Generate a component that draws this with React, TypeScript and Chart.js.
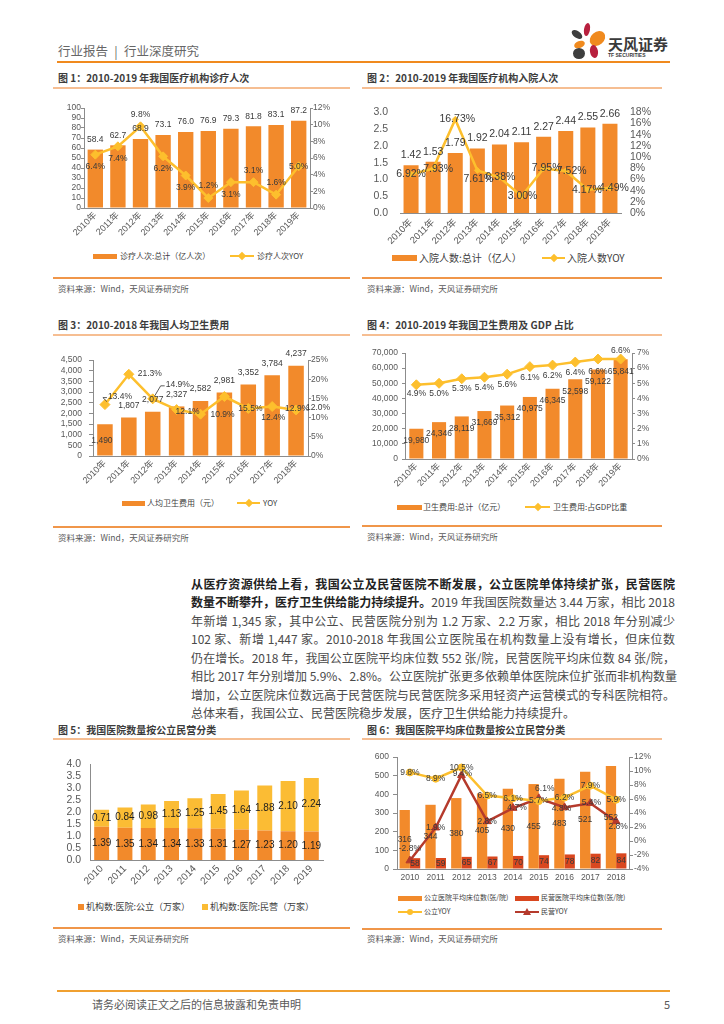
import React, { useEffect, useRef } from 'react';
import { Chart, registerables } from 'chart.js';

Chart.register(...registerables);

const NUM = "'Liberation Sans', 'Noto Sans CJK SC', sans-serif";
const CJK = "'Noto Sans CJK SC', 'Liberation Sans', sans-serif";

const ORANGE = '#F28A2B';
const YELLOW = '#FDBF2D';
const GOLD5 = '#FBBC34';
const RED_BAR = '#D9471F';
const RED_LINE = '#B53A2C';
const AXIS = '#8C8C8C';
const TICK = '#595959';
const LABEL = '#3A3A3A';

// ---------------- data ----------------
const yearsCN10 = ['2010年', '2011年', '2012年', '2013年', '2014年', '2015年', '2016年', '2017年', '2018年', '2019年'];
const yearsCN9 = ['2010年', '2011年', '2012年', '2013年', '2014年', '2015年', '2016年', '2017年', '2018年'];
const years10 = ['2010', '2011', '2012', '2013', '2014', '2015', '2016', '2017', '2018', '2019'];
const years9 = ['2010', '2011', '2012', '2013', '2014', '2015', '2016', '2017', '2018'];

const visits = [58.4, 62.7, 68.9, 73.1, 76.0, 76.9, 79.3, 81.8, 83.1, 87.2];
const visitsYoy = [6.4, 7.4, 9.8, 6.2, 3.9, 1.2, 3.1, 3.1, 1.6, 5.0];

const admissions = [1.42, 1.53, 1.79, 1.92, 2.04, 2.11, 2.27, 2.44, 2.55, 2.66];
const admissionsYoy = [6.92, 7.93, 16.73, 7.61, 6.38, 3.0, 7.95, 7.52, 4.17, 4.49];

const perCapita = [1490, 1807, 2077, 2327, 2582, 2981, 3352, 3784, 4237];
const perCapitaYoy = [13.4, 21.3, 14.9, 12.1, 10.9, 15.5, 12.4, 12.9, 12.0];

const healthSpend = [19980, 24346, 28119, 31669, 35312, 40975, 46345, 52598, 59122, 65841];
const gdpShare = [4.9, 5.0, 5.3, 5.4, 5.6, 6.1, 6.2, 6.4, 6.6, 6.6];

const publicHosp = [1.39, 1.35, 1.34, 1.34, 1.33, 1.31, 1.27, 1.23, 1.2, 1.19];
const privateHosp = [0.71, 0.84, 0.98, 1.13, 1.25, 1.45, 1.64, 1.88, 2.1, 2.24];

const publicBeds = [316, 344, 380, 405, 430, 455, 483, 521, 552];
const privateBeds = [58, 59, 65, 67, 70, 74, 78, 82, 84];
const publicBedsYoy = [9.8, 8.9, 10.5, 6.5, 6.1, 5.7, 6.2, 7.9, 5.9];
const privateBedsYoy = [-2.8, 1.9, 9.4, 2.8, 4.7, 6.1, 4.8, 5.4, 2.8];

// ---------------- helpers ----------------
const comma = (v: number) => Math.round(v).toLocaleString('en-US');
const pct0 = (v: number) => `${Math.round(v)}%`;
const fix1 = (v: number) => v.toFixed(1);
const fix2 = (v: number) => v.toFixed(2);

type LabelSet = {
  ds: number;
  fmt: (v: number) => string;
  pos: string | string[];
  off?: number | number[];
  dx?: number[];
  dy?: number[];
  leader?: boolean[];
  size: number;
  color?: string;
};

function labelPlugin(sets: LabelSet[]) {
  return {
    id: 'valueLabels',
    afterDatasetsDraw(chart: any) {
      const ctx = chart.ctx;
      ctx.save();
      for (const s of sets) {
        const meta = chart.getDatasetMeta(s.ds);
        const data = chart.data.datasets[s.ds].data;
        meta.data.forEach((el: any, i: number) => {
          const p = el.getProps(['x', 'y', 'base'], true);
          const pos = Array.isArray(s.pos) ? s.pos[i] : s.pos;
          const off = Array.isArray(s.off) ? s.off[i] : s.off ?? 0;
          let x = p.x;
          let y = p.y;
          if (pos === 'above') y -= off;
          else if (pos === 'below') y += off;
          else if (pos === 'middle') y = (p.y + p.base) / 2;
          x += s.dx ? s.dx[i] : 0;
          y += s.dy ? s.dy[i] : 0;
          const text = s.fmt(data[i]);
          ctx.font = `${s.size}px ${NUM}`;
          ctx.fillStyle = s.color || LABEL;
          ctx.textAlign = 'center';
          ctx.textBaseline = 'middle';
          ctx.fillText(text, x, y);
          if (s.leader && s.leader[i]) {
            const w = ctx.measureText(text).width;
            ctx.strokeStyle = '#333';
            ctx.lineWidth = 0.8;
            ctx.beginPath();
            ctx.moveTo(p.x + 2, p.y - 3);
            ctx.lineTo(x - w / 2 - 5, y + 1);
            ctx.lineTo(x - w / 2 - 1, y + 1);
            ctx.stroke();
          }
        });
      }
      ctx.restore();
    },
  };
}

function yScale(o: any) {
  return {
    type: 'linear',
    position: o.pos,
    min: o.min,
    max: o.max,
    stacked: !!o.stacked,
    ticks: {
      stepSize: o.step,
      autoSkip: false,
      color: TICK,
      font: { size: o.size, family: NUM },
      padding: o.pad,
      callback: (v: any) => o.fmt(Number(v)),
    },
    grid: { display: o.tick > 0, drawOnChartArea: false, drawTicks: o.tick > 0, tickLength: o.tick, color: AXIS },
    border: { display: o.border, color: AXIS, width: 1 },
    afterFit: (s: any) => {
      s.width = o.width;
    },
  };
}

function xScale(o: any) {
  return {
    type: 'category',
    stacked: !!o.stacked,
    offset: true,
    ticks: {
      autoSkip: false,
      maxRotation: o.rot,
      minRotation: o.rot,
      color: TICK,
      font: { size: o.size, family: NUM },
      padding: o.pad ?? 2,
    },
    grid: { display: false, drawTicks: false },
    border: { display: true, color: AXIS, width: 1 },
    afterFit: (s: any) => {
      s.height = o.height;
    },
  };
}

function baseOptions(pad: any, scales: any) {
  return {
    responsive: false,
    animation: false,
    devicePixelRatio: 1,
    events: [],
    layout: { padding: pad },
    plugins: { legend: { display: false }, tooltip: { enabled: false } },
    scales,
  };
}

function lineDs(data: number[], color: string, style: string, radius: number) {
  return {
    type: 'line',
    data,
    yAxisID: 'y1',
    borderColor: color,
    backgroundColor: color,
    pointBackgroundColor: color,
    pointBorderColor: color,
    pointBorderWidth: 1,
    borderWidth: 2.5,
    pointStyle: style,
    pointRadius: radius,
    tension: 0,
    order: 0,
  };
}

function barDs(data: number[], color: string, bp: number, cp = 1, extra: any = {}) {
  return {
    type: 'bar',
    data,
    yAxisID: 'y',
    backgroundColor: color,
    barPercentage: bp,
    categoryPercentage: cp,
    order: 1,
    ...extra,
  };
}

// ---------------- chart configs ----------------
const chart1 = () => ({
  type: 'bar',
  data: {
    labels: yearsCN10,
    datasets: [lineDs(visitsYoy, YELLOW, 'rectRot', 4.5), barDs(visits, ORANGE, 0.68)],
  },
  options: baseOptions({ top: 10, left: 0, right: 0, bottom: 0 }, {
    x: xScale({ rot: 45, size: 9, height: 40 }),
    y: yScale({ pos: 'left', min: 0, max: 100, step: 10, size: 8.5, pad: 0, tick: 3, border: true, width: 34, fmt: (v: number) => String(Math.round(v)) }),
    y1: yScale({ pos: 'right', min: 0, max: 12, step: 2, size: 8.5, pad: 0, tick: 3, border: true, width: 35, fmt: pct0 }),
  }),
  plugins: [
    labelPlugin([
      { ds: 1, fmt: fix1, pos: 'above', off: 10, size: 8.5 },
      {
        ds: 0,
        fmt: (v: number) => `${v.toFixed(1)}%`,
        pos: ['below', 'below', 'above', 'below', 'below', 'above', 'below', 'above', 'above', 'center'],
        off: 12,
        size: 8.5,
      },
    ]),
  ],
});

const chart2 = () => ({
  type: 'bar',
  data: {
    labels: yearsCN10,
    datasets: [lineDs(admissionsYoy, YELLOW, 'rectRot', 3), barDs(admissions, ORANGE, 0.68)],
  },
  options: baseOptions({ top: 10, left: 0, right: 0, bottom: 0 }, {
    x: xScale({ rot: 45, size: 9.5, height: 36, pad: 4 }),
    y: yScale({ pos: 'left', min: 0, max: 3, step: 0.5, size: 10.5, pad: 12, tick: 0, border: false, width: 38, fmt: fix1 }),
    y1: yScale({ pos: 'right', min: 0, max: 18, step: 2, size: 10.5, pad: 9, tick: 0, border: false, width: 41, fmt: pct0 }),
  }),
  plugins: [
    labelPlugin([
      { ds: 1, fmt: fix2, pos: 'above', off: 10, size: 10.5 },
      {
        ds: 0,
        fmt: (v: number) => `${v.toFixed(2)}%`,
        pos: 'center',
        dx: [0, 5, 2, 1, 1, 1, 3, 6, -1, 4],
        dy: [0, 0, 0, 9, 0, 0, 0, 0, 0, 0],
        size: 10.5,
      },
    ]),
  ],
});

const chart3 = () => ({
  type: 'bar',
  data: {
    labels: yearsCN9,
    datasets: [lineDs(perCapitaYoy, YELLOW, 'rectRot', 5), barDs(perCapita, ORANGE, 0.65)],
  },
  options: baseOptions({ top: 10, left: 0, right: 0, bottom: 0 }, {
    x: xScale({ rot: 45, size: 9, height: 37 }),
    y: yScale({ pos: 'left', min: 0, max: 4500, step: 500, size: 8.5, pad: 7, tick: 4, border: true, width: 43, fmt: comma }),
    y1: yScale({ pos: 'right', min: 0, max: 25, step: 5, size: 8.5, pad: 0, tick: 3, border: true, width: 37, fmt: pct0 }),
  }),
  plugins: [
    labelPlugin([
      {
        ds: 1,
        fmt: comma,
        pos: ['below', 'above', 'above', 'above', 'above', 'above', 'above', 'above', 'above'],
        off: [16, 12, 12, 12, 12, 12, 12, 12, 12],
        dx: [-3, 0, 0, 0, 0, 0, 0, 0, 0],
        size: 8.5,
      },
      {
        ds: 0,
        fmt: (v: number) => `${v.toFixed(1)}%`,
        pos: 'center',
        dx: [15, 21, 25, 11, 22, 26, 25, 25, 22],
        dy: [-8, -1, -14, 2, 0, 12, 9, 2, -2],
        leader: [true, false, true, false, false, false, false, false, false],
        size: 8.5,
      },
    ]),
  ],
});

const chart4 = () => ({
  type: 'bar',
  data: {
    labels: yearsCN10,
    datasets: [lineDs(gdpShare, YELLOW, 'rectRot', 5), barDs(healthSpend, ORANGE, 0.62)],
  },
  options: baseOptions({ top: 10, left: 0, right: 0, bottom: 0 }, {
    x: xScale({ rot: 45, size: 9, height: 36 }),
    y: yScale({ pos: 'left', min: 0, max: 70000, step: 10000, size: 8.5, pad: 4, tick: 3, border: true, width: 43, fmt: comma }),
    y1: yScale({ pos: 'right', min: 0, max: 7, step: 1, size: 8.5, pad: 2, tick: 3, border: true, width: 30, fmt: pct0 }),
  }),
  plugins: [
    labelPlugin([
      { ds: 1, fmt: comma, pos: 'below', off: 12, size: 8.5 },
      {
        ds: 0,
        fmt: (v: number) => `${v.toFixed(1)}%`,
        pos: ['below', 'below', 'below', 'below', 'below', 'below', 'below', 'below', 'below', 'above'],
        off: [9, 10, 10, 10, 10, 11, 11, 11, 13, 8],
        size: 8.5,
      },
    ]),
  ],
});

const chart5 = () => ({
  type: 'bar',
  data: {
    labels: years10,
    datasets: [
      barDs(publicHosp, ORANGE, 0.64, 1, { stack: 's' }),
      barDs(privateHosp, GOLD5, 0.64, 1, { stack: 's' }),
    ],
  },
  options: baseOptions({ top: 10, left: 0, right: 22, bottom: 0 }, {
    x: xScale({ rot: 45, size: 10, height: 39, pad: 3, stacked: true }),
    y: yScale({ pos: 'left', min: 0, max: 4, step: 0.5, size: 10.5, pad: 9, tick: 0, border: true, width: 40, fmt: fix1, stacked: true }),
  }),
  plugins: [
    labelPlugin([
      { ds: 0, fmt: fix2, pos: 'middle', size: 10, color: '#1E1E1E' },
      { ds: 1, fmt: fix2, pos: 'middle', size: 10, color: '#1E1E1E' },
    ]),
  ],
});

const chart6 = () => ({
  type: 'bar',
  data: {
    labels: years9,
    datasets: [
      lineDs(publicBedsYoy, YELLOW, 'circle', 3.5),
      { ...lineDs(privateBedsYoy, RED_LINE, 'triangle', 4.5) },
      barDs(publicBeds, ORANGE, 1, 0.8),
      barDs(privateBeds, RED_BAR, 1, 0.8),
    ],
  },
  options: baseOptions({ top: 10, left: 0, right: 0, bottom: 0 }, {
    x: xScale({ rot: 0, size: 8.5, height: 18, pad: 4 }),
    y: yScale({ pos: 'left', min: 0, max: 600, step: 100, size: 8.5, pad: 4, tick: 4, border: true, width: 35, fmt: (v: number) => String(Math.round(v)) }),
    y1: yScale({ pos: 'right', min: -4, max: 12, step: 2, size: 8.5, pad: 1, tick: 4, border: true, width: 33, fmt: pct0 }),
  }),
  plugins: [
    labelPlugin([
      { ds: 2, fmt: (v: number) => String(v), pos: 'middle', size: 8.5 },
      { ds: 3, fmt: (v: number) => String(v), pos: 'middle', size: 8.5 },
      { ds: 0, fmt: (v: number) => `${v.toFixed(1)}%`, pos: 'center', size: 8.5 },
      {
        ds: 1,
        fmt: (v: number) => `${v.toFixed(1)}%`,
        pos: ['above', 'center', 'center', 'center', 'center', 'above', 'center', 'center', 'center'],
        off: [12, 0, 0, 0, 0, 10, 0, 0, 0],
        dx: [0, 0, 1, 0, 4, 6, -3, 1, 2],
        dy: [0, 0, -2, 0, 0, 0, 1, -1, 5],
        size: 8.5,
      },
    ]),
  ],
});

// ---------------- components ----------------
function ChartCanvas({ left, top, width, height, config }: any) {
  const ref = useRef<HTMLCanvasElement>(null);
  useEffect(() => {
    const c = new Chart(ref.current as HTMLCanvasElement, config() as any);
    return () => c.destroy();
  }, []);
  return (
    <canvas
      ref={ref}
      width={width}
      height={height}
      style={{ position: 'absolute', left, top, width, height }}
    />
  );
}

function T({ x, cy, size, children, color = '#404040', bold = false, family = CJK, style = {} }: any) {
  return (
    <div
      style={{
        position: 'absolute',
        left: x,
        top: cy - size * 0.7,
        fontSize: size,
        lineHeight: `${size * 1.4}px`,
        color,
        fontWeight: bold ? 700 : 400,
        fontFamily: family,
        whiteSpace: 'pre',
        ...style,
      }}
    >
      {children}
    </div>
  );
}

function HLine({ x1, x2, y, color, h = 1 }: any) {
  return <div style={{ position: 'absolute', left: x1, top: y - h / 2, width: x2 - x1, height: h, background: color }} />;
}

function BarSwatch({ x, cy, w = 24, h = 6, color }: any) {
  return <div style={{ position: 'absolute', left: x, top: cy - h / 2, width: w, height: h, background: color }} />;
}

function LineSwatch({ x, cy, w = 24, color, marker }: any) {
  const mx = x + w / 2;
  let m: any = null;
  if (marker === 'diamond') {
    m = <div style={{ position: 'absolute', left: mx - 3, top: cy - 3, width: 6, height: 6, background: color, transform: 'rotate(45deg)' }} />;
  } else if (marker === 'circle') {
    m = <div style={{ position: 'absolute', left: mx - 3, top: cy - 3, width: 6, height: 6, borderRadius: '50%', background: color }} />;
  } else if (marker === 'triangle') {
    m = (
      <div
        style={{
          position: 'absolute',
          left: mx - 4,
          top: cy - 4.5,
          width: 0,
          height: 0,
          borderLeft: '4px solid transparent',
          borderRight: '4px solid transparent',
          borderBottom: `7px solid ${color}`,
        }}
      />
    );
  }
  return (
    <>
      <div style={{ position: 'absolute', left: x, top: cy - 1.25, width: w, height: 2.5, background: color }} />
      {m}
    </>
  );
}

function Panel({ x1, x2, tx, titleY, lineY, bottomY, sourceY, title }: any) {
  return (
    <>
      <T x={tx} cy={titleY} size={10} bold color="#3C3C3C">
        {title}
      </T>
      <HLine x1={x1} x2={x2} y={lineY} color="#F6BE92" h={1.5} />
      <HLine x1={x1} x2={x2} y={bottomY} color="#F0964A" h={1.5} />
      <T x={tx} cy={sourceY} size={8.5} color="#595959">
        资料来源：Wind，天风证券研究所
      </T>
    </>
  );
}

function Petal({ cx, cy, w, h, rot, color }: any) {
  return (
    <div
      style={{
        position: 'absolute',
        left: cx - w / 2,
        top: cy - h / 2,
        width: w,
        height: h,
        borderRadius: '50%',
        background: color,
        transform: `rotate(${rot}deg)`,
      }}
    />
  );
}

const paraLines: { text: any; last?: boolean }[] = [
  { text: <b style={{ color: '#222' }}>从医疗资源供给上看，我国公立及民营医院不断发展，公立医院单体持续扩张，民营医院</b> },
  {
    text: (
      <>
        <b style={{ color: '#222' }}>数量不断攀升，医疗卫生供给能力持续提升。</b>2019 年我国医院数量达 3.44 万家，相比 2018
      </>
    ),
  },
  { text: '年新增 1,345 家，其中公立、民营医院分别为 1.2 万家、2.2 万家，相比 2018 年分别减少' },
  { text: '102 家、新增 1,447 家。2010-2018 年我国公立医院虽在机构数量上没有增长，但床位数' },
  { text: '仍在增长。2018 年，我国公立医院平均床位数 552 张/院，民营医院平均床位数 84 张/院，' },
  { text: '相比 2017 年分别增加 5.9%、2.8%。公立医院扩张更多依赖单体医院床位扩张而非机构数量' },
  { text: '增加，公立医院床位数远高于民营医院与民营医院多采用轻资产运营模式的专科医院相符。' },
  { text: '总体来看，我国公立、民营医院稳步发展，医疗卫生供给能力持续提升。', last: true },
];

export default function App() {
  const L = { x1: 53, x2: 350, tx: 58 };
  const R = { x1: 362, x2: 662, tx: 367 };
  return (
    <div
      style={{
        position: 'absolute',
        left: 0,
        top: 0,
        width: 724,
        height: 1024,
        overflow: 'hidden',
        background: '#fff',
        fontFamily: CJK,
      }}
    >
      {/* header */}
      <T x={58} cy={51} size={12.5} color="#666">
        {'行业报告\u2002|\u2002行业深度研究'}
      </T>
      <HLine x1={57} x2={670} y={62} color="#F08A1E" h={2} />
      <Petal cx={577} cy={34} w={12} h={7} rot={35} color="#3E3E3E" />
      <Petal cx={587} cy={29} w={6} h={13} rot={10} color="#B8203E" />
      <Petal cx={597} cy={38} w={17} h={13} rot={-40} color="#F08A1E" />
      <Petal cx={579} cy={44} w={11} h={7} rot={-20} color="#F08A1E" />
      <Petal cx={594} cy={51} w={8} h={13} rot={-10} color="#B8203E" />
      <Petal cx={579} cy={53} w={12} h={11} rot={0} color="#3E3E3E" />
      <T x={608} cy={43} size={15} bold color="#3A3A3A">
        天风证券
      </T>
      <T x={608} cy={55} size={5} bold color="#3A3A3A" family={NUM}>
        TF SECURITIES
      </T>

      {/* chart 1 */}
      <Panel {...L} titleY={78} lineY={88} bottomY={278} sourceY={289} title="图 1：2010-2019 年我国医疗机构诊疗人次" />
      <ChartCanvas left={50} top={98} width={295} height={150} config={chart1} />
      <BarSwatch x={93} cy={256} w={24} h={5} color={ORANGE} />
      <T x={120} cy={256} size={8}>诊疗人次:总计（亿人次）</T>
      <LineSwatch x={230} cy={256} w={24} color={YELLOW} marker="diamond" />
      <T x={257} cy={256} size={8}>诊疗人次YOY</T>

      {/* chart 2 */}
      <Panel {...R} titleY={78} lineY={88} bottomY={278} sourceY={289} title="图 2：2010-2019 年我国医疗机构入院人次" />
      <ChartCanvas left={362} top={94} width={300} height={155} config={chart2} />
      <BarSwatch x={392} cy={258} w={25} h={6} color={ORANGE} />
      <T x={419} cy={258} size={10}>入院人数:总计（亿人）</T>
      <LineSwatch x={542} cy={258} w={23} color={YELLOW} marker="diamond" />
      <T x={567} cy={258} size={10}>入院人数YOY</T>

      {/* chart 3 */}
      <Panel {...L} titleY={325} lineY={335} bottomY={527} sourceY={538} title="图 3：2010-2018 年我国人均卫生费用" />
      <ChartCanvas left={50} top={348} width={295} height={145} config={chart3} />
      <BarSwatch x={122} cy={503} w={23} h={5} color={ORANGE} />
      <T x={147} cy={503} size={8}>人均卫生费用（元）</T>
      <LineSwatch x={237} cy={503} w={23} color={YELLOW} marker="diamond" />
      <T x={263} cy={503} size={8}>YOY</T>

      {/* chart 4 */}
      <Panel {...R} titleY={325} lineY={335} bottomY={526} sourceY={537} title="图 4：2010-2019 年我国卫生费用及 GDP 占比" />
      <ChartCanvas left={362} top={343} width={300} height={152} config={chart4} />
      <BarSwatch x={397} cy={507} w={25} h={5} color={ORANGE} />
      <T x={423} cy={507} size={8}>卫生费用:总计（亿元）</T>
      <LineSwatch x={525} cy={507} w={25} color={YELLOW} marker="diamond" />
      <T x={553} cy={507} size={8}>卫生费用:占GDP比重</T>

      {/* paragraph */}
      {paraLines.map((ln, i) => (
        <div
          key={i}
          style={{
            position: 'absolute',
            left: 191,
            top: 583.5 + i * 18.5 - 9,
            width: ln.last ? undefined : 484,
            fontSize: 12,
            lineHeight: '18px',
            color: '#4A4A4A',
            fontFamily: CJK,
            whiteSpace: 'nowrap',
            textAlign: ln.last ? 'left' : 'justify',
            textAlignLast: ln.last ? 'left' : 'justify',
          } as any}
        >
          {ln.text}
        </div>
      ))}

      {/* chart 5 */}
      <Panel {...L} titleY={730} lineY={739} bottomY={928} sourceY={939} title="图 5：我国医院数量按公立民营分类" />
      <ChartCanvas left={50} top={749} width={295} height={150} config={chart5} />
      <BarSwatch x={78} cy={907} w={6} h={6} color={ORANGE} />
      <T x={86} cy={907} size={9}>机构数:医院:公立（万家）</T>
      <BarSwatch x={202} cy={907} w={6} h={6} color={GOLD5} />
      <T x={210} cy={907} size={9}>机构数:医院:民营（万家）</T>

      {/* chart 6 */}
      <Panel {...R} titleY={730} lineY={739} bottomY={929} sourceY={939} title="图 6：我国医院平均床位数量按公立民营分类" />
      <ChartCanvas left={362} top={747} width={300} height={140} config={chart6} />
      <BarSwatch x={398} cy={898} w={24} h={5} color={ORANGE} />
      <T x={424} cy={898} size={7}>公立医院平均床位数(张/院)</T>
      <BarSwatch x={515} cy={898} w={24} h={5} color={RED_BAR} />
      <T x={541} cy={898} size={7}>民营医院平均床位数(张/院)</T>
      <LineSwatch x={398} cy={912} w={24} color={YELLOW} marker="circle" />
      <T x={424} cy={912} size={7}>公立YOY</T>
      <LineSwatch x={515} cy={912} w={24} color={RED_LINE} marker="triangle" />
      <T x={541} cy={912} size={7}>民营YOY</T>

      {/* footer */}
      <HLine x1={57} x2={670} y={991} color="#F0A030" h={2} />
      <T x={92} cy={1005} size={11} color="#595959">
        请务必阅读正文之后的信息披露和免责申明
      </T>
      <T x={664} cy={1005} size={11} color="#595959">
        5
      </T>
    </div>
  );
}
